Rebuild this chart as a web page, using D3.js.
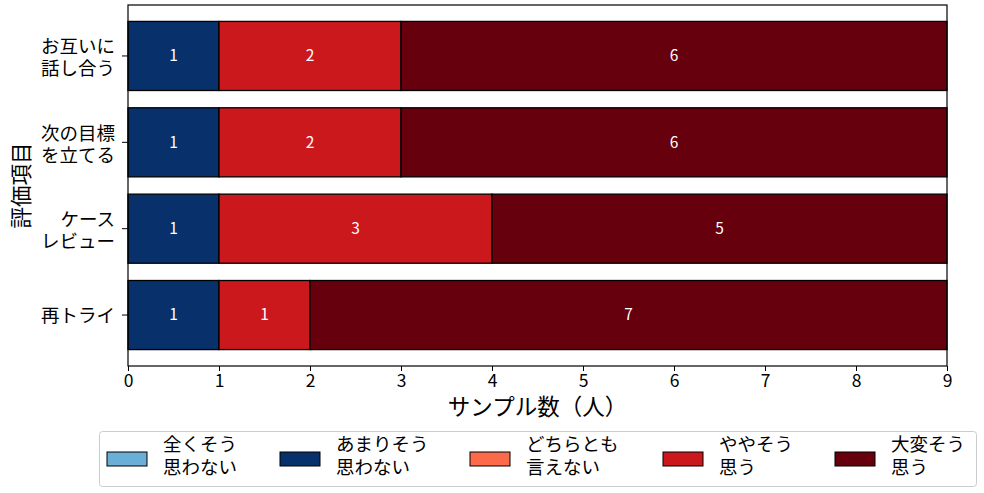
<!DOCTYPE html>
<html lang="ja">
  <head>
    <meta charset="UTF-8" />
    <title>評価項目</title>
    <style>
      body { margin: 0; background: #fff; }
      text { font-family: "Noto Sans CJK JP", "Noto Sans", sans-serif; }
    </style>
  </head>
  <body>
    <script src="https://d3js.org/d3.v7.min.js"></script>
    <script>
      const categories = ['お互いに\n話し合う', '次の目標\nを立てる', 'ケース\nレビュー', '再トライ']
      const seriesNames = ['全くそう\n思わない', 'あまりそう\n思わない', 'どちらとも\n言えない', 'ややそう\n思う', '大変そう\n思う']
      const seriesColors = ['#6baed6', '#08306b', '#fb6a4a', '#cb181d', '#67000d']
      const notAtAll = [0, 0, 0, 0]
      const notReally = [1, 1, 1, 1]
      const neutral = [0, 0, 0, 0]
      const somewhat = [2, 2, 3, 1]
      const strongly = [6, 6, 5, 7]
      const xTicks = [0, 1, 2, 3, 4, 5, 6, 7, 8, 9]

      const width = 984
      const height = 493
      const margin = { top: 5, right: 37, bottom: 127, left: 128 }

      const svg = d3.select('body').append('svg')
        .attr('width', width).attr('height', height)

      const series = [notAtAll, notReally, neutral, somewhat, strongly]
      const rows = categories.map((c, i) => {
        const r = { cat: c }
        seriesNames.forEach((s, j) => { r[s] = series[j][i] })
        return r
      })
      const stacked = d3.stack().keys(seriesNames)(rows)

      const x = d3.scaleLinear()
        .domain([0, 9])
        .range([margin.left, width - margin.right])

      const y = d3.scaleBand()
        .domain(categories)
        .range([margin.top, height - margin.bottom])
        .paddingInner(0.2)
        .paddingOuter(0.19)

      // bars
      stacked.forEach((layer, j) => {
        const g = svg.append('g').attr('fill', seriesColors[j])
        layer.forEach(d => {
          const v = d[1] - d[0]
          if (v <= 0) return
          g.append('rect')
            .attr('x', x(d[0]))
            .attr('y', y(d.data.cat))
            .attr('width', x(d[1]) - x(d[0]))
            .attr('height', y.bandwidth())
            .attr('stroke', '#000')
            .attr('stroke-width', 1.3)
          svg.append('text')
            .attr('x', (x(d[0]) + x(d[1])) / 2)
            .attr('y', y(d.data.cat) + y.bandwidth() / 2)
            .attr('dy', '0.35em')
            .attr('text-anchor', 'middle')
            .attr('fill', '#fff')
            .attr('font-size', 15.5)
            .text(v)
        })
      })

      // frame
      svg.append('rect')
        .attr('x', margin.left).attr('y', margin.top)
        .attr('width', width - margin.left - margin.right)
        .attr('height', height - margin.top - margin.bottom)
        .attr('fill', 'none').attr('stroke', '#000').attr('stroke-width', 1.2)

      const xAxis = g => g
        .attr('transform', `translate(0,${height - margin.bottom})`)
        .call(d3.axisBottom(x).tickValues(xTicks).tickSize(5).tickPadding(4))
        .call(g => g.select('.domain').remove())
        .call(g => g.selectAll('text').attr('font-size', 17.5).attr('fill', '#000'))

      const yAxis = g => g
        .attr('transform', `translate(${margin.left},0)`)
        .call(d3.axisLeft(y).tickSize(6).tickFormat(''))
        .call(g => g.select('.domain').remove())

      svg.append('g').call(xAxis)
      svg.append('g').call(yAxis)

      // y tick labels (two lines)
      categories.forEach(c => {
        const lines = c.split('\n')
        const t = svg.append('text')
          .attr('text-anchor', 'end')
          .attr('font-size', 18.5)
          .attr('fill', '#000')
        const cy = y(c) + y.bandwidth() / 2
        lines.forEach((l, i) => {
          const off = lines.length === 1 ? 0 : (i === 0 ? -9 : 13)
          t.append('tspan')
            .attr('x', margin.left - 13)
            .attr('y', cy + off)
            .attr('dy', '0.35em')
            .text(l)
        })
      })

      svg.append('text')
        .attr('x', (margin.left + width - margin.right) / 2)
        .attr('y', 407)
        .attr('dy', '0.35em')
        .attr('text-anchor', 'middle')
        .attr('font-size', 22.5)
        .text('サンプル数（人）')

      svg.append('text')
        .attr('transform', `translate(29,${(margin.top + height - margin.bottom) / 2}) rotate(-90)`)
        .attr('text-anchor', 'middle')
        .attr('font-size', 21.5)
        .text('評価項目')

      // legend
      const legend = svg.append('g')
      legend.append('rect')
        .attr('x', 99.5).attr('y', 431.5).attr('width', 877).attr('height', 55)
        .attr('rx', 3).attr('fill', '#fff').attr('stroke', '#ccc')
      const legendX = [107, 280, 470, 663, 835]
      seriesNames.forEach((s, j) => {
        legend.append('rect')
          .attr('x', legendX[j]).attr('y', 452).attr('width', 40).attr('height', 14)
          .attr('fill', seriesColors[j]).attr('stroke', '#000').attr('stroke-width', 1)
        const t = legend.append('text').attr('font-size', 18.5).attr('fill', '#000')
        s.split('\n').forEach((l, i) => {
          t.append('tspan').attr('x', legendX[j] + 56).attr('y', 445 + i * 23)
            .attr('dy', '0.35em').text(l)
        })
      })
    </script>
  </body>
</html>
